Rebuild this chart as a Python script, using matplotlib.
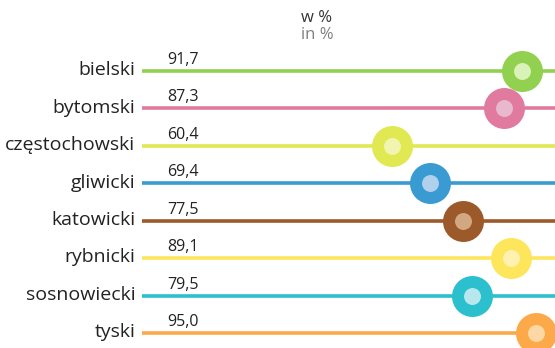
import numpy as np
import matplotlib.pyplot as plt

# DATA:
# ==================================================================
regions = ['bielski', 'bytomski', 'częstochowski', 'gliwicki',
           'katowicki', 'rybnicki', 'sosnowiecki', 'tyski']
values  = [91.7, 87.3, 60.4, 69.4, 77.5, 89.1, 79.5, 95.0]
labels  = ['91,7', '87,3', '60,4', '69,4', '77,5', '89,1', '79,5', '95,0']

colors = ['#92d050', '#e07a9e', '#e0e852', '#3a9ad2',
          '#9c5a2a', '#fde55c', '#2cbfce', '#fca94a']
inner  = ['#d8f2b8', '#e8b8cc', '#f2f5b0', '#b0d0ee',
          '#d2a882', '#fff2b0', '#b8e8ee', '#fed8a4']

# MAKE PLOT:
# ==================================================================
plt.rcParams['font.family'] = ['Open Sans', 'DejaVu Sans']

W, H = 555, 348
fig = plt.figure(figsize=(W/100, H/100), dpi=100)
ax = fig.add_axes([142/W, 0, 414.5/W, 1])
ax.set_xlim(0, 100)
ax.set_ylim(7.40, -1.897)
ax.axis('off')

for i, (name, v, lab) in enumerate(zip(regions, values, labels)):
    # track line, outer disc, inner disc
    ax.plot([0, 100], [i, i], color=colors[i], lw=2.6,
            solid_capstyle='butt', clip_on=False, zorder=1)
    ax.plot(v, i, 'o', ms=29.5, color=colors[i], mec='none',
            clip_on=False, zorder=2)
    ax.plot(v, i, 'o', ms=12.2, color=inner[i], mec='none',
            clip_on=False, zorder=3)
    ax.text(6.0, i - 0.08, lab, fontsize=11.5, color='#222222',
            ha='left', va='bottom')
    ax.text(-1.6, i - 0.02, name, fontsize=14, color='#222222',
            ha='right', va='center')

fig.text(317/W, 1 - 18/H, 'w %', fontsize=12, color='#333333',
         ha='center', va='center')
fig.text(317/W, 1 - 35/H, 'in %', fontsize=12, color='#808080',
         ha='center', va='center')

fig.savefig('out.png', dpi=100)
